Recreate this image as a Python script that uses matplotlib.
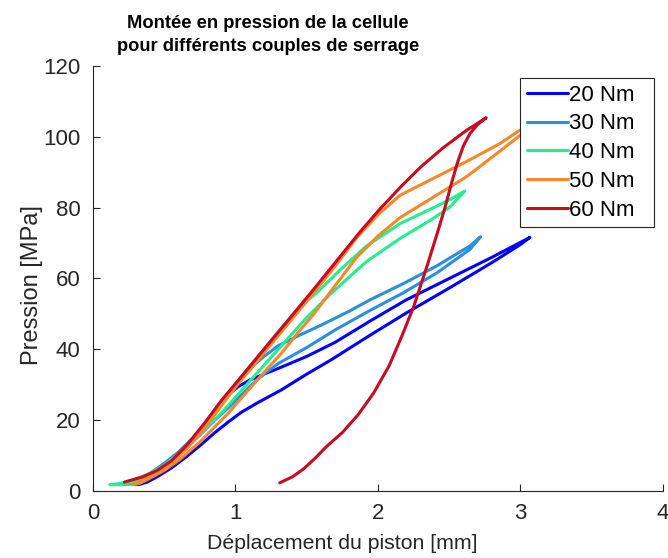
import matplotlib
matplotlib.use("Agg")
import matplotlib.pyplot as plt

plt.rcParams["font.family"] = ["Liberation Sans", "DejaVu Sans"]

# ---- donnees (deplacement en mm, pression en MPa) ----
labels = ["20 Nm", "30 Nm", "40 Nm", "50 Nm", "60 Nm"]
colors = ["#0000ff", "#2a8fdf", "#25ef8d", "#f7872b", "#c80a23"]

disp_20 = [0.3, 0.4, 0.5, 0.6, 0.7, 0.8, 0.88, 0.95, 1.02, 1.1, 1.2, 1.3, 1.5, 1.7, 1.945, 2.2, 2.5, 2.8, 3.066,
           3.0, 2.8, 2.5, 2.2, 1.945, 1.67, 1.5, 1.32, 1.15, 1.04, 0.95, 0.85, 0.75, 0.65, 0.55, 0.45, 0.38, 0.32]
pres_20 = [1.8, 3.8, 6.5, 10, 14.5, 19.5, 24, 27.2, 29.5, 31.3, 33, 34.6, 38, 42, 48, 54, 60, 66, 71.6,
           69.6, 64.5, 57.3, 50.3, 44, 37, 33, 28.5, 24.8, 22.2, 19.5, 16.3, 12.8, 9.5, 6.5, 4, 2.5, 1.8]

disp_30 = [0.19, 0.3, 0.4, 0.5, 0.6, 0.7, 0.8, 0.9, 1.0, 1.1, 1.2, 1.3, 1.45, 1.6, 1.8, 1.945, 2.18, 2.41, 2.645, 2.72,
           2.645, 2.41, 2.18, 1.945, 1.7, 1.5, 1.3, 1.2, 1.1, 0.95, 0.85, 0.75, 0.65, 0.55, 0.45, 0.35, 0.27, 0.19]
pres_30 = [1.8, 3, 5, 7.8, 11, 15, 19.8, 25, 30, 34.5, 38, 41, 44, 46.8, 50.8, 54, 58.6, 63.5, 69.2, 71.8,
           68.2, 61.5, 56, 51, 45.5, 40.5, 36, 33, 29.5, 23.5, 19.8, 15.8, 12, 8.5, 5.5, 3.2, 2, 1.8]

disp_40 = [0.12, 0.2, 0.3, 0.4, 0.5, 0.6, 0.7, 0.8, 0.9, 1.0, 1.1, 1.2, 1.3, 1.45, 1.571, 1.734, 1.92, 2.155, 2.39, 2.505, 2.61,
           2.505, 2.39, 2.155, 1.92, 1.8, 1.664, 1.5, 1.3, 1.1, 0.9, 0.8, 0.7, 0.6, 0.5, 0.4, 0.3, 0.2, 0.12]
pres_40 = [1.8, 2.2, 3.3, 5, 7.3, 10.5, 14.7, 19.7, 25.3, 30.3, 35.2, 40, 45, 52, 56, 62.4, 69.2, 75.5, 80, 82.3, 84.7,
           80.2, 77, 71.3, 64.8, 60.5, 55.5, 49, 40, 31, 22, 18, 14, 10.3, 7, 4.3, 2.6, 1.8, 1.8]

disp_50 = [0.28, 0.35, 0.45, 0.55, 0.66, 0.78, 0.9, 1.0, 1.2, 1.4, 1.55, 1.7, 1.85, 2.0, 2.155, 2.39, 2.62, 2.856, 3.0, 3.1,
           3.0, 2.85, 2.62, 2.39, 2.155, 2.0, 1.85, 1.69, 1.55, 1.455, 1.314, 1.2, 1.08, 0.95, 0.847, 0.75, 0.613, 0.5, 0.4, 0.33, 0.28]
pres_50 = [1.8, 3, 5, 8, 12, 17.5, 24, 29.3, 39, 48.7, 56, 63.5, 71.5, 78, 83.5, 88.3, 93, 98.1, 102, 104.5,
           100.5, 95.8, 88.7, 83, 77.2, 72, 66, 57.5, 50, 45.5, 38.5, 33.5, 28, 22, 17.8, 13.8, 9, 5.8, 3.6, 2.2, 1.8]

disp_60 = [0.22, 0.35, 0.45, 0.55, 0.66, 0.78, 0.9, 1.0, 1.2, 1.4, 1.55, 1.7, 1.875, 2.0, 2.155, 2.3, 2.46, 2.62, 2.76,
           2.70, 2.645, 2.6, 2.56, 2.52, 2.47, 2.41, 2.34, 2.25, 2.17, 2.08, 1.97, 1.86, 1.75, 1.64, 1.56, 1.48, 1.4, 1.31]
pres_60 = [2.5, 4.0, 5.8, 8.5, 13, 19, 25.5, 30.3, 40, 49.7, 57, 64.5, 73.2, 79, 85.7, 91.5, 97, 101.8, 105.4,
           103.5, 100.9, 97.5, 93, 87.5, 80, 72, 63, 52, 44, 35.5, 27.7, 21.5, 16.5, 12.6, 9.3, 6.3, 4.0, 2.3]

series = [(disp_20, pres_20), (disp_30, pres_30), (disp_40, pres_40), (disp_50, pres_50), (disp_60, pres_60)]

fig = plt.figure(figsize=(6.68, 5.58), dpi=100)
ax = fig.add_axes([0.1392, 0.1201, 0.8533, 0.7616])

for (x, y), lab, col in zip(series, labels, colors):
    ax.plot(x, y, color=col, lw=2.2, label=lab, solid_joinstyle="round", solid_capstyle="round")

ax.set_xlim(0, 4)
ax.set_ylim(0, 120)
ax.set_xticks([0, 1, 2, 3, 4])
ax.set_yticks(range(0, 121, 20))

for s in ["top", "right"]:
    ax.spines[s].set_visible(False)
for s in ["left", "bottom"]:
    ax.spines[s].set_color("#262626")
    ax.spines[s].set_linewidth(0.8)
ax.tick_params(direction="in", length=5, width=0.8, labelsize=16, colors="#262626", pad=9)

ax.set_xlabel("Déplacement du piston [mm]", fontsize=15.3, color="#262626")
ax.xaxis.set_label_coords(0.437, -0.102)
ax.set_ylabel("Pression [MPa]", fontsize=17, color="#262626")
ax.yaxis.set_label_coords(-0.087, 0.485)

fig.text(0.401, 1 - 35 / 558, "Montée en pression de la cellule\npour différents couples de serrage",
         ha="center", va="center", fontsize=13.2, fontweight="bold", linespacing=1.5)

leg = ax.legend(loc="upper left", bbox_to_anchor=(0.749, 0.5, 0.235, 0.4718), mode="expand",
                fontsize=16, handlelength=1.85, handletextpad=0.07, labelspacing=0.35,
                borderpad=0.3, borderaxespad=0.0, fancybox=False, framealpha=1.0,
                edgecolor="#262626")
leg.get_frame().set_linewidth(0.8)
for h in leg.get_lines():
    h.set_linewidth(2.2)

fig.savefig("out.png", dpi=100)
